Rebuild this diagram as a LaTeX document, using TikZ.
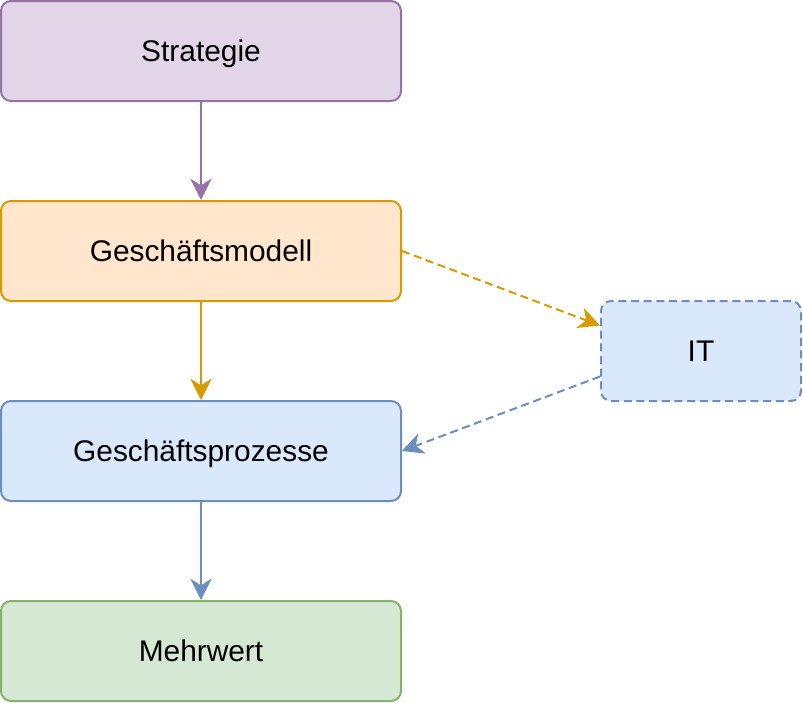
\documentclass[tikz,border=0pt]{standalone}
\usepackage{fontspec}
\setmainfont{Liberation Sans}
\usetikzlibrary{arrows.meta,calc}
\definecolor{lilafill}{HTML}{E1D5E7}
\definecolor{lilaline}{HTML}{9673A6}
\definecolor{orangefill}{HTML}{FFE6CC}
\definecolor{orangeline}{HTML}{D79B00}
\definecolor{blaufill}{HTML}{DAE8FC}
\definecolor{blauline}{HTML}{6C8EBF}
\definecolor{gruenfill}{HTML}{D5E8D4}
\definecolor{gruenline}{HTML}{82B366}
\begin{document}
\begin{tikzpicture}[x=0.75pt, y=-0.75pt, line width=1.5pt, font=\fontsize{22.4}{27}\selectfont,
        >={Stealth[length=16pt, width=16pt, inset=5pt]},
        box/.style={draw, rounded corners=7.5pt, minimum width=300pt, minimum height=75pt, inner sep=0pt, text depth=0pt},
        kleinbox/.style={box, minimum width=150pt},
        gestrichelt/.style={dash pattern=on 6pt off 3.5pt}]
        \useasboundingbox (0,0) rectangle (803,703);
        \node[box, fill=lilafill, draw=lilaline] (strategie) at (201,51) {Strategie};
        \node[box, fill=orangefill, draw=orangeline] (modell) at (201,251) {Geschäftsmodell};
        \node[box, fill=blaufill, draw=blauline] (prozesse) at (201,451) {Geschäftsprozesse};
        \node[box, fill=gruenfill, draw=gruenline] (mehrwert) at (201,651) {Mehrwert};
        \node[kleinbox, fill=blaufill, draw=blauline, gestrichelt] (it) at (701,351) {IT};
        % Pfeile
        \draw[->, draw=lilaline, fill=lilaline] (strategie.south) -- (modell.north);
        \draw[->, draw=orangeline, fill=orangeline] (modell.south) -- (prozesse.north);
        \draw[->, draw=blauline, fill=blauline] (prozesse.south) -- (mehrwert.north);
        \draw[->, draw=orangeline, gestrichelt] (modell.east) -- ($(it.north west)!0.25!(it.south west)$);
        \draw[->, draw=blauline, gestrichelt] ($(it.north west)!0.75!(it.south west)$) -- (prozesse.east);
\end{tikzpicture}
\end{document}
